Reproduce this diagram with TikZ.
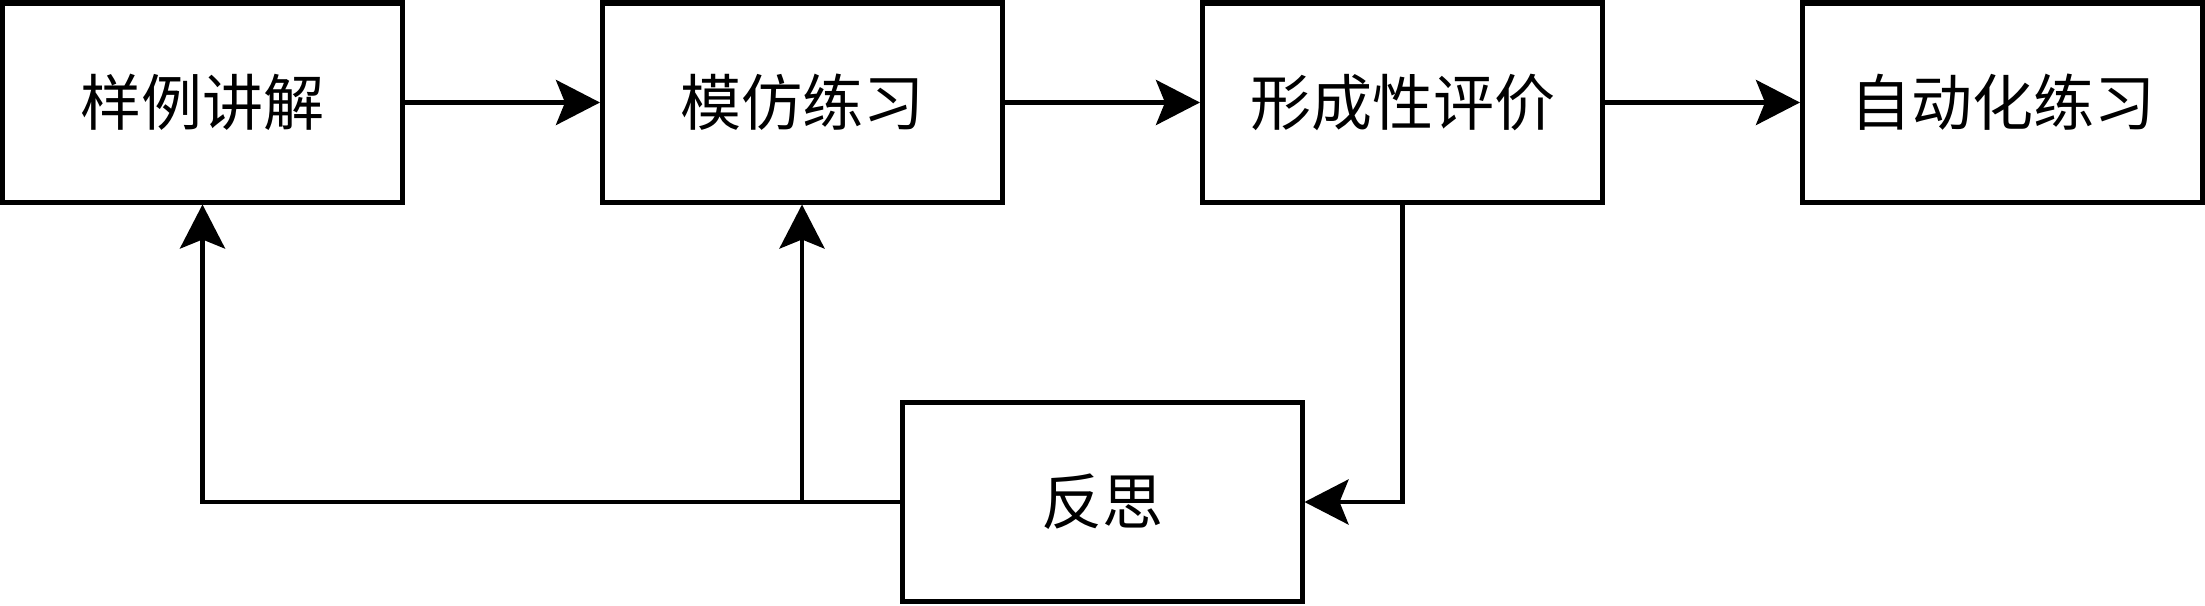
\documentclass[tikz,border=0pt]{standalone}
\usepackage{fontspec}
\newfontfamily\cjk{Noto Sans CJK SC}
\usetikzlibrary{arrows.meta}
\begin{document}
\begin{tikzpicture}[x=1pt,y=-1pt,
  stepbox/.style={draw=black,line width=5pt,fill=white,minimum width=400pt,minimum height=199pt,inner sep=0pt,outer sep=2.5pt,font=\cjk\fontsize{61}{72}\selectfont},
  conn/.style={line width=4.7pt,-{Stealth[length=44pt,width=45pt,inset=9pt]}}]
\useasboundingbox (0,0) rectangle (2205,605);
\node[stepbox] (b1) at (202.5,102.5) {样例讲解};
\node[stepbox] (b2) at (802.5,102.5) {模仿练习};
\node[stepbox] (b3) at (1402.5,102.5) {形成性评价};
\node[stepbox] (b4) at (2002.5,102.5) {自动化练习};
\node[stepbox] (b5) at (1102,502) {反思};
\coordinate (j) at (802,501);
\draw[conn] (b1.east) -- (b2.west);
\draw[conn] (b2.east) -- (b3.west);
\draw[conn] (b3.east) -- (b4.west);
\draw[conn] (b3.south) |- (b5.east);
\draw[conn] (b5.west) -| (b1.south);
\draw[conn] (j) -- (j |- b2.south);
\end{tikzpicture}
\end{document}
